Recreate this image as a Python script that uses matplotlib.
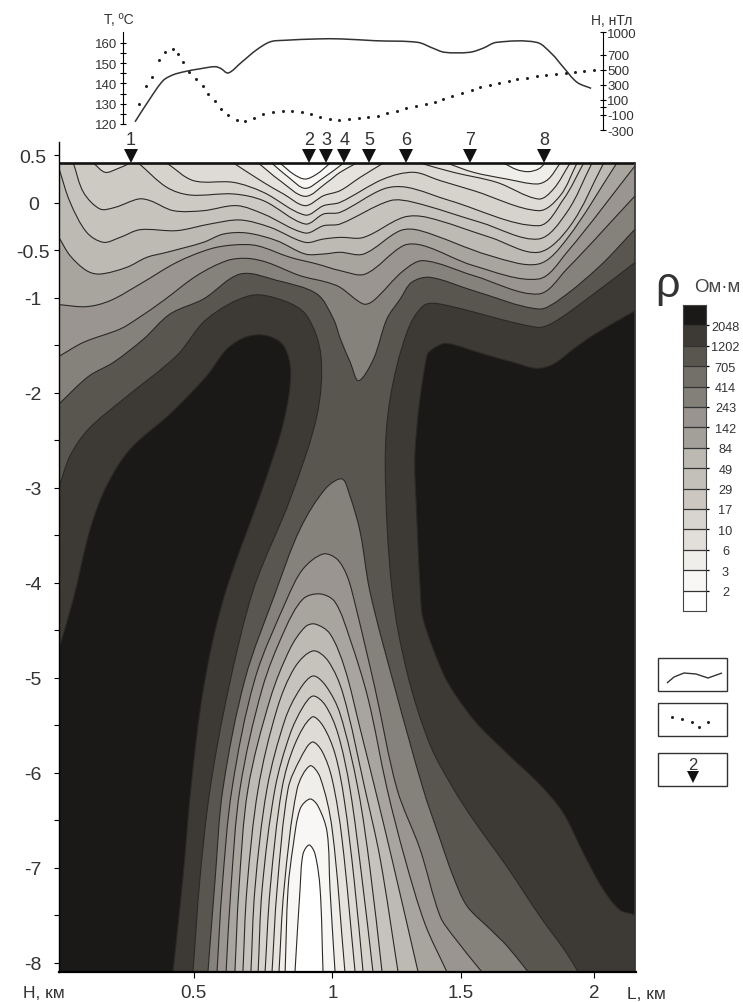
import matplotlib
matplotlib.use('Agg')
import matplotlib.pyplot as plt
from matplotlib.path import Path
from matplotlib.patches import PathPatch, Rectangle
import numpy as np

plt.rcParams['font.family'] = ['Liberation Sans', 'DejaVu Sans']
plt.rcParams['text.color'] = '#333333'
plt.rcParams['xtick.labelcolor'] = '#333333'
plt.rcParams['ytick.labelcolor'] = '#333333'
plt.rcParams['axes.unicode_minus'] = False

W, H_PX = 743, 1003
X_LEFT, X_RIGHT = -0.004, 2.154
H_TOP, H_BOT = 0.415, -8.1
LINE = '#2b2926'

levels = [2, 3, 6, 10, 17, 29, 49, 84, 142, 243, 414, 705, 1202, 2048]
band_colors = ['#ffffff', '#f8f7f5', '#f0eeeb', '#e6e3df', '#dedbd6', '#d6d2cc', '#cdc9c3',
               '#c6c3bd', '#bdbab4', '#a8a49e', '#9a9590', '#85817b', '#595650', '#3d3a35', '#1a1917']
scale_colors = ['#ffffff', '#f8f7f5', '#f0eeeb', '#e2dfdb', '#d8d5d0', '#ccc7c1', '#c3c0ba',
                '#bcb9b3', '#a3a09a', '#99948f', '#83807a', '#73706a', '#595650', '#3d3a35', '#1a1917']

# upper contours, L in km and H in km
L2_top = [.824, .874, .918, .962, 1.012]
H2_top = [.415, .30, .247, .30, .415]
L3_mid = [.793, .856, .918, .980, 1.062]
H3_mid = [.415, .265, .149, .247, .415]
L3_right = [1.661, 1.711, 1.754, 1.792, 1.817]
H3_right = [.415, .346, .325, .353, .415]
L6_mid = [.743, .824, .918, 1.0, 1.049, 1.111]
H6_mid = [.415, .23, .065, .212, .318, .415]
L6_right = [1.449, 1.548, 1.673, 1.786, 1.829, 1.873]
H6_right = [.415, .318, .247, .195, .247, .415]
L10_mid = [.65, .762, .837, .918, .987, 1.049, 1.124, 1.211]
H10_mid = [.415, .212, .09, -.033, .072, .125, .265, .415]
L10_right = [1.349, 1.473, 1.636, 1.792, 1.848, 1.910]
H10_right = [.415, .318, .212, .037, .142, .415]
L17_dip = [.125, .169, .213, .263]
H17_dip = [.415, .318, .353, .415]
L17 = [.40, .50, .65, .762, .918, .987, 1.049, 1.211, 1.324, 1.424, 1.549, 1.792, 1.873, 1.936]
H17 = [.415, .23, .212, .107, -.132, -.033, .002, .247, .318, .23, .125, -.086, .072, .415]
L29 = [.294, .40, .487, .65, .762, .918, .987, 1.049, 1.211, 1.299, 1.461, 1.792, 1.886, 1.961]
H29 = [.415, .16, .079, .09, .019, -.226, -.121, -.103, .142, .16, .019, -.244, .037, .415]
L49 = [.05, .088, .15, .206, .294, .338, .425, .537, .662, .762, .918, .987, 1.049, 1.236, 1.324, 1.574, 1.792, 1.898, 1.992]
H49 = [.415, .107, -.068, -.051, .037, .019, -.086, -.086, -.033, -.121, -.321, -.244, -.226, .019, .002, -.209, -.384, -.103, .415]
L84 = [-.004, .038, .10, .163, .225, .30, .437, .562, .675, .787, .918, .987, 1.049, 1.137, 1.286, 1.374, 1.611, 1.792, 1.911, 2.036]
H84 = [.36, .002, -.314, -.419, -.367, -.286, -.296, -.226, -.184, -.261, -.419, -.384, -.367, -.367, -.156, -.156, -.367, -.524, -.244, .415]
L142 = [-.004, .038, .10, .15, .25, .325, .40, .537, .612, .70, .812, .918, .987, 1.049, 1.137, 1.274, 1.349, 1.611, 1.792, 1.898, 2.085]
H142 = [-.367, -.56, -.718, -.753, -.682, -.577, -.524, -.419, -.332, -.321, -.402, -.542, -.542, -.524, -.542, -.296, -.296, -.56, -.647, -.384, .415]
L243 = [-.004, .10, .188, .30, .437, .562, .65, .737, .862, .962, 1.049, 1.143, 1.286, 1.361, 1.549, 1.792, 1.898, 2.154]
H243 = [-1.075, -1.096, -1.033, -.858, -.63, -.489, -.447, -.454, -.577, -.647, -.717, -.753, -.454, -.454, -.665, -.805, -.525, .388]
L414 = [-.004, .088, .225, .288, .387, .512, .625, .70, .775, .899, 1.0, 1.049, 1.136, 1.174, 1.286, 1.361, 1.549, 1.792, 1.898, 2.154]
H414 = [-1.62, -1.472, -1.332, -1.226, -1.033, -.77, -.612, -.588, -.63, -.77, -.84, -.893, -1.068, -1.033, -.718, -.612, -.77, -.963, -.70, .072]
L705 = [-.004, .107, .20, .313, .412, .537, .675, .812, .962, 1.024, 1.05, 1.087, 1.118, 1.174, 1.224, 1.274, 1.317, 1.386, 1.548, 1.792, 1.873, 2.023, 2.154]
H705 = [-2.121, -1.83, -1.683, -1.437, -1.174, -1.016, -.753, -.82, -.963, -1.226, -1.437, -1.683, -1.876, -1.648, -1.226, -1.016, -.84, -.788, -.928, -1.121, -1.016, -.665, -.279]

# high resistivity blocks
L1202_left = [-.004, .038, .107, .238, .437, .55, .712, .837, .924, .977, .962, .862, .725, .631, .562, .524, .498]
H1202_left = [-3.0, -2.665, -2.384, -2.069, -1.612, -1.226, -.98, -1.033, -1.191, -1.612, -2.244, -3.121, -4.068, -5.12, -6.174, -7.12, -8.1]
L2048_left = [-.004, .05, .113, .175, .263, .412, .55, .625, .70, .775, .837, .864, .837, .762, .612, .537, .49, .46, .423]
H2048_left = [-4.70, -4.174, -3.437, -2.98, -2.595, -2.226, -1.823, -1.542, -1.412, -1.402, -1.507, -1.788, -2.314, -2.981, -4.174, -5.12, -6.174, -7.12, -8.1]
L1202_right = [1.94, 1.897, 1.798, 1.673, 1.548, 1.474, 1.386, 1.30, 1.243, 1.218, 1.236, 1.299, 1.361, 1.424, 1.786, 1.848, 1.973, 2.154]
H1202_right = [-8.1, -7.90, -7.516, -6.989, -6.498, -6.174, -5.71, -4.95, -4.068, -2.77, -2.069, -1.367, -1.086, -1.069, -1.314, -1.262, -1.016, -.63]
L2048_right = [2.154, 2.0, 1.923, 1.848, 1.786, 1.698, 1.586, 1.449, 1.405, 1.374, 1.33, 1.336, 1.349, 1.36, 1.434, 1.485, 1.56, 1.673, 1.798, 1.885, 1.96, 2.035, 2.097, 2.154]
H2048_right = [-1.139, -1.39, -1.542, -1.70, -1.746, -1.683, -1.595, -1.483, -1.525, -1.612, -2.595, -3.297, -4.068, -4.385, -4.953, -5.2, -5.48, -5.796, -6.13, -6.428, -6.849, -7.235, -7.446, -7.498]

# lower arches
La705 = [.554, .581, .61, .693, .805, .899, .993, 1.056, 1.086, 1.124, 1.161, 1.255, 1.36, 1.423, 1.472, 1.524, 1.61, 1.674, 1.753]
Ha705 = [-8.1, -7.12, -6.174, -5.016, -4.12, -3.437, -3.016, -2.91, -3.09, -3.468, -4.1, -5.12, -6.174, -6.7, -7.09, -7.405, -7.647, -7.826, -8.1]
La414 = [.588, .607, .644, .73, .85, .91, .985, 1.037, 1.075, 1.105, 1.18, 1.262, 1.348, 1.423, 1.472, 1.58]
Ha414 = [-8.1, -7.226, -6.174, -5.016, -4.174, -3.858, -3.7, -3.753, -3.93, -4.226, -5.12, -6.174, -6.805, -7.51, -7.72, -8.1]
La243 = [.622, .64, .674, .757, .843, .91, .974, 1.03, 1.086, 1.154, 1.225, 1.292, 1.367, 1.449]
Ha243 = [-8.1, -7.226, -6.174, -5.12, -4.49, -4.174, -4.12, -4.206, -4.595, -5.226, -6.174, -6.91, -7.595, -8.1]
La142 = [.655, .67, .704, .787, .861, .918, .955, 1.011, 1.067, 1.124, 1.18, 1.243, 1.341]
Ha142 = [-8.1, -7.226, -6.174, -5.226, -4.7, -4.468, -4.437, -4.54, -4.91, -5.54, -6.174, -6.91, -8.1]
La84 = [.685, .70, .742, .813, .88, .948, 1.004, 1.06, 1.142, 1.199, 1.266]
Ha84 = [-8.1, -7.226, -6.174, -5.33, -4.89, -4.72, -4.826, -5.174, -6.174, -6.91, -8.1]
La49 = [.715, .73, .775, .843, .899, .948, .996, 1.049, 1.116, 1.161, 1.206]
Ha49 = [-8.1, -7.226, -6.174, -5.44, -5.12, -4.984, -5.09, -5.384, -6.174, -7.016, -8.1]
La29 = [.742, .757, .805, .861, .91, .948, .993, 1.041, 1.086, 1.131, 1.172]
Ha29 = [-8.1, -7.226, -6.174, -5.6, -5.31, -5.195, -5.29, -5.595, -6.174, -7.12, -8.1]
La17 = [.768, .787, .831, .88, .944, .985, 1.03, 1.064, 1.101, 1.135]
Ha17 = [-8.1, -7.226, -6.174, -5.7, -5.416, -5.51, -5.805, -6.28, -7.12, -8.1]
La10 = [.794, .813, .854, .899, .944, .981, 1.019, 1.056, 1.105]
Ha10 = [-8.1, -7.226, -6.174, -5.86, -5.68, -5.775, -6.07, -6.7, -8.1]
La6 = [.82, .839, .888, .936, .974, 1.019, 1.067]
Ha6 = [-8.1, -7.226, -6.174, -5.93, -6.05, -6.595, -8.1]
La3 = [.843, .854, .873, .899, .936, .966, 1.0, 1.011, 1.03]
Ha3 = [-8.1, -7.226, -6.774, -6.384, -6.279, -6.353, -6.626, -7.226, -8.1]
La2 = [.88, .899, .91, .933, .955, .974, .985]
Ha2 = [-8.1, -7.226, -6.858, -6.763, -6.858, -7.226, -8.1]

# temperature and magnetic field profiles
L_temp = [.281, .336, .386, .422, .465, .522, .58, .601, .63, .68, .737, .788, .838, .967, 1.053, 1.182, 1.34, 1.397, 1.44, 1.534, 1.584, 1.634, 1.785, 1.842, 1.885, 1.936, 1.989]
T_temp = [121.1, 132.3, 141.4, 144.2, 145.8, 147.2, 148.3, 147.5, 145.2, 150.5, 156.7, 160.6, 161.3, 162, 162, 161.1, 160.3, 157.4, 155.4, 155.4, 157.4, 160.3, 160.3, 154.6, 148, 140.6, 137.6]
L_mag = [.297, .321, .343, .371, .393, .425, .443, .462, .482, .508, .536, .555, .579, .604, .63, .663, .694, .727, .762, .798, .835, .869, .905, .941, .974, 1.01, 1.046, 1.082, 1.118, 1.154, 1.189, 1.225, 1.261, 1.297, 1.333, 1.369, 1.405, 1.433, 1.469, 1.505, 1.541, 1.572, 1.61, 1.644, 1.68, 1.713, 1.749, 1.785, 1.821, 1.857, 1.893, 1.928, 1.964, 2.0]
N_mag = [45, 279, 399, 629, 739, 774, 708, 598, 465, 377, 279, 178, 89, -21, -101, -163, -180, -145, -87, -65, -48, -48, -65, -87, -132, -154, -163, -154, -145, -132, -110, -74, -43, -4, 23, 45, 67, 111, 147, 187, 235, 266, 297, 324, 355, 377, 394, 412, 430, 443, 456, 474, 487, 496]

# stations
st_names = ['1', '2', '3', '4', '5', '6', '7', '8']
st_L = [.266, .933, .996, 1.064, 1.157, 1.296, 1.536, 1.813]

h_ticks = np.arange(-8, 0.75, 0.5)
h_labels = ['-8', '', '-7', '', '-6', '', '-5', '', '-4', '', '-3', '', '-2', '', '-1', '-0.5', '0', '0.5']
l_ticks = [.5, 1.02, 1.5, 2]
l_labels = ['0.5', '1', '1.5', '2']
t_major = [120, 130, 140, 150, 160]
t_minor = [125, 135, 145, 155]
n_major = [-300, -100, 100, 300, 500, 700, 1000]


def smooth(L, H, sx=267.0, sy=95.0):
    # bezier path through the read points, handles follow the chord length on screen
    p = np.column_stack([L, H])
    seg = p[1:] - p[:-1]
    d = np.hypot(seg[:, 0] * sx, seg[:, 1] * sy)
    m = np.zeros_like(p)
    m[0] = seg[0] / d[0]
    m[-1] = seg[-1] / d[-1]
    m[1:-1] = (p[2:] - p[:-2]) / (d[:-1] + d[1:])[:, None]
    verts = [p[0]]
    codes = [Path.MOVETO]
    for i in range(len(d)):
        verts += [p[i] + m[i] * d[i] / 3, p[i + 1] - m[i + 1] * d[i] / 3, p[i + 1]]
        codes += [Path.CURVE4] * 3
    return verts, codes


def contour(ax, L, H, color, edge):
    verts, codes = smooth(L, H)
    closed = verts + [(L[-1], edge), (L[0], edge), verts[0]]
    ccodes = codes + [Path.LINETO, Path.LINETO, Path.CLOSEPOLY]
    ax.add_patch(PathPatch(Path(closed, ccodes), facecolor=color, edgecolor='none', lw=0))
    ax.add_patch(PathPatch(Path(verts, codes), fill=False, edgecolor=LINE, lw=0.8))


fig = plt.figure(figsize=(W / 100, H_PX / 100), dpi=100)

# main section
ax = fig.add_axes([59 / W, (H_PX - 973) / H_PX, 577 / W, 830 / H_PX])
ax.set_xlim(-.00375, 2.157)
ax.set_ylim(H_BOT, .637)
ax.add_patch(Rectangle((X_LEFT, H_BOT), X_RIGHT - X_LEFT, H_TOP - H_BOT, facecolor=band_colors[12], edgecolor='none'))

contour(ax, L1202_left, H1202_left, band_colors[13], H_BOT)
contour(ax, L2048_left, H2048_left, band_colors[14], H_BOT)
contour(ax, L1202_right, H1202_right, band_colors[13], H_BOT)
contour(ax, L2048_right, H2048_right, band_colors[14], H_BOT)

upper = [(L705, H705, 11), (L414, H414, 10), (L243, H243, 9), (L142, H142, 8), (L84, H84, 7),
         (L49, H49, 6), (L29, H29, 5), (L17, H17, 4), (L17_dip, H17_dip, 4), (L10_mid, H10_mid, 3),
         (L10_right, H10_right, 3), (L6_mid, H6_mid, 2), (L6_right, H6_right, 2),
         (L3_mid, H3_mid, 1), (L3_right, H3_right, 1), (L2_top, H2_top, 0)]
for x, y, i in upper:
    contour(ax, x, y, band_colors[i], H_TOP)

arches = [(La705, Ha705), (La414, Ha414), (La243, Ha243), (La142, Ha142), (La84, Ha84), (La49, Ha49),
          (La29, Ha29), (La17, Ha17), (La10, Ha10), (La6, Ha6), (La3, Ha3), (La2, Ha2)]
for i, (x, y) in enumerate(arches):
    contour(ax, x, y, band_colors[11 - i], H_BOT)

ax.plot([X_LEFT, X_RIGHT], [H_TOP, H_TOP], color='#111111', lw=1.9, solid_capstyle='butt')
ax.plot([X_RIGHT, X_RIGHT], [H_BOT, H_TOP], color='#333333', lw=1.2)
for s in ['top', 'right']:
    ax.spines[s].set_visible(False)
ax.spines['left'].set_linewidth(1.0)
ax.spines['bottom'].set_linewidth(1.6)
ax.set_yticks(h_ticks, h_labels, fontsize=14)
ax.set_xticks(l_ticks, l_labels, fontsize=13.5)
ax.tick_params(axis='y', length=3.5, width=0.8, pad=15)
ax.tick_params(axis='x', length=4, width=0.8, pad=4.5)
for t in ax.get_yticklabels():
    t.set_ha('center')

ax.plot(st_L, [.49] * len(st_L), 'v', color='#111111', ms=9.6, mew=0, clip_on=False)
for name, x in zip(st_names, st_L):
    ax.text(x, .668, name, ha='center', va='center', fontsize=13, clip_on=False)
ax.text(-.06, -8.32, 'Н, км', ha='center', va='center', fontsize=12.5)
ax.text(2.195, -8.33, 'L, км', ha='center', va='center', fontsize=12.5, clip_on=False)

# profiles on top
pr = fig.add_axes([59 / W, (H_PX - 132) / H_PX, 577 / W, 102 / H_PX])
pr.set_xlim(-.00375, 2.157)
pr.set_ylim(116.54, 166.9)
pr.patch.set_alpha(0)
tv, tc = smooth(L_temp, T_temp, 267.0, 2.025)
pr.add_patch(PathPatch(Path(tv, tc), fill=False, edgecolor='#333333', lw=1.1))
for s in ['top', 'right', 'bottom']:
    pr.spines[s].set_visible(False)
pr.spines['left'].set_position(('data', .236))
pr.spines['left'].set_bounds(120, 165.4)
pr.set_xticks([])
pr.set_yticks(t_major)
pr.set_yticks(t_minor, minor=True)
pr.tick_params(axis='y', which='both', direction='inout', length=4, width=0.8, labelsize=9.5, pad=2)
pr.text(.22, 172, 'T, ºC', ha='center', va='center', fontsize=10, clip_on=False)

mg = pr.twinx()
mg.set_ylim(-313, 1040)
mg.patch.set_alpha(0)
mg.plot(L_mag, N_mag, linestyle='none', marker='o', ms=2.2, color='#222222', mew=0)
for s in ['top', 'left', 'bottom']:
    mg.spines[s].set_visible(False)
mg.spines['right'].set_position(('data', 2.034))
mg.spines['right'].set_bounds(-300, 1000)
mg.set_yticks(n_major)
mg.set_yticks([0], minor=True)
mg.tick_params(axis='y', which='both', direction='inout', length=4, width=0.8, labelsize=9.5, pad=1)
mg.text(2.067, 1165, 'Н, нТл', ha='center', va='center', fontsize=10, clip_on=False)

# resistivity scale
cb = fig.add_axes([683 / W, (H_PX - 612) / H_PX, 23 / W, 306 / H_PX])
cb.bar([0] * 15, [1] * 15, bottom=np.arange(15), width=1, color=scale_colors)
cb.set_xlim(-.5, .5)
cb.set_ylim(0, 15)
cb.set_xticks([])
cb.yaxis.tick_right()
cb.set_yticks(np.arange(1, 15), [str(v) for v in levels], fontsize=9.2)
cb.tick_params(axis='y', length=2, width=0.9, pad=12)
for t in cb.get_yticklabels():
    t.set_ha('center')
for v in np.arange(1, 15):
    cb.axhline(v, color='#333333', lw=0.9)
for s in cb.spines.values():
    s.set_linewidth(0.8)
    s.set_color('#444444')

# header of the scale and the legend boxes, in picture pixels
ov = fig.add_axes([0, 0, 1, 1])
ov.set_xlim(0, W)
ov.set_ylim(H_PX, 0)
ov.axis('off')
ov.patch.set_alpha(0)
ov.text(667, 286, 'ρ', ha='center', va='center', fontsize=31)
ov.text(717, 287, 'Ом·м', ha='center', va='center', fontsize=13.5, color='#444444')
for y0 in [659, 704, 754]:
    ov.add_patch(Rectangle((658, y0), 69, 33, fill=False, edgecolor='#333333', lw=1.0))
wave_v, wave_c = smooth([667, 674, 684, 696, 708, 722], [684, 678, 674, 675, 679, 674], 1.0, 1.0)
ov.add_patch(PathPatch(Path(wave_v, wave_c), fill=False, edgecolor='#333333', lw=1.0))
ov.plot([672, 682, 692, 699, 708], [718, 720, 723, 728, 723], linestyle='none', marker='o', ms=2.2, mew=0, color='#222222')
ov.text(693, 765, '2', ha='center', va='center', fontsize=12)
ov.plot([693], [778], 'v', color='#111111', ms=8.5, mew=0)

fig.savefig('out.png', dpi=100)
